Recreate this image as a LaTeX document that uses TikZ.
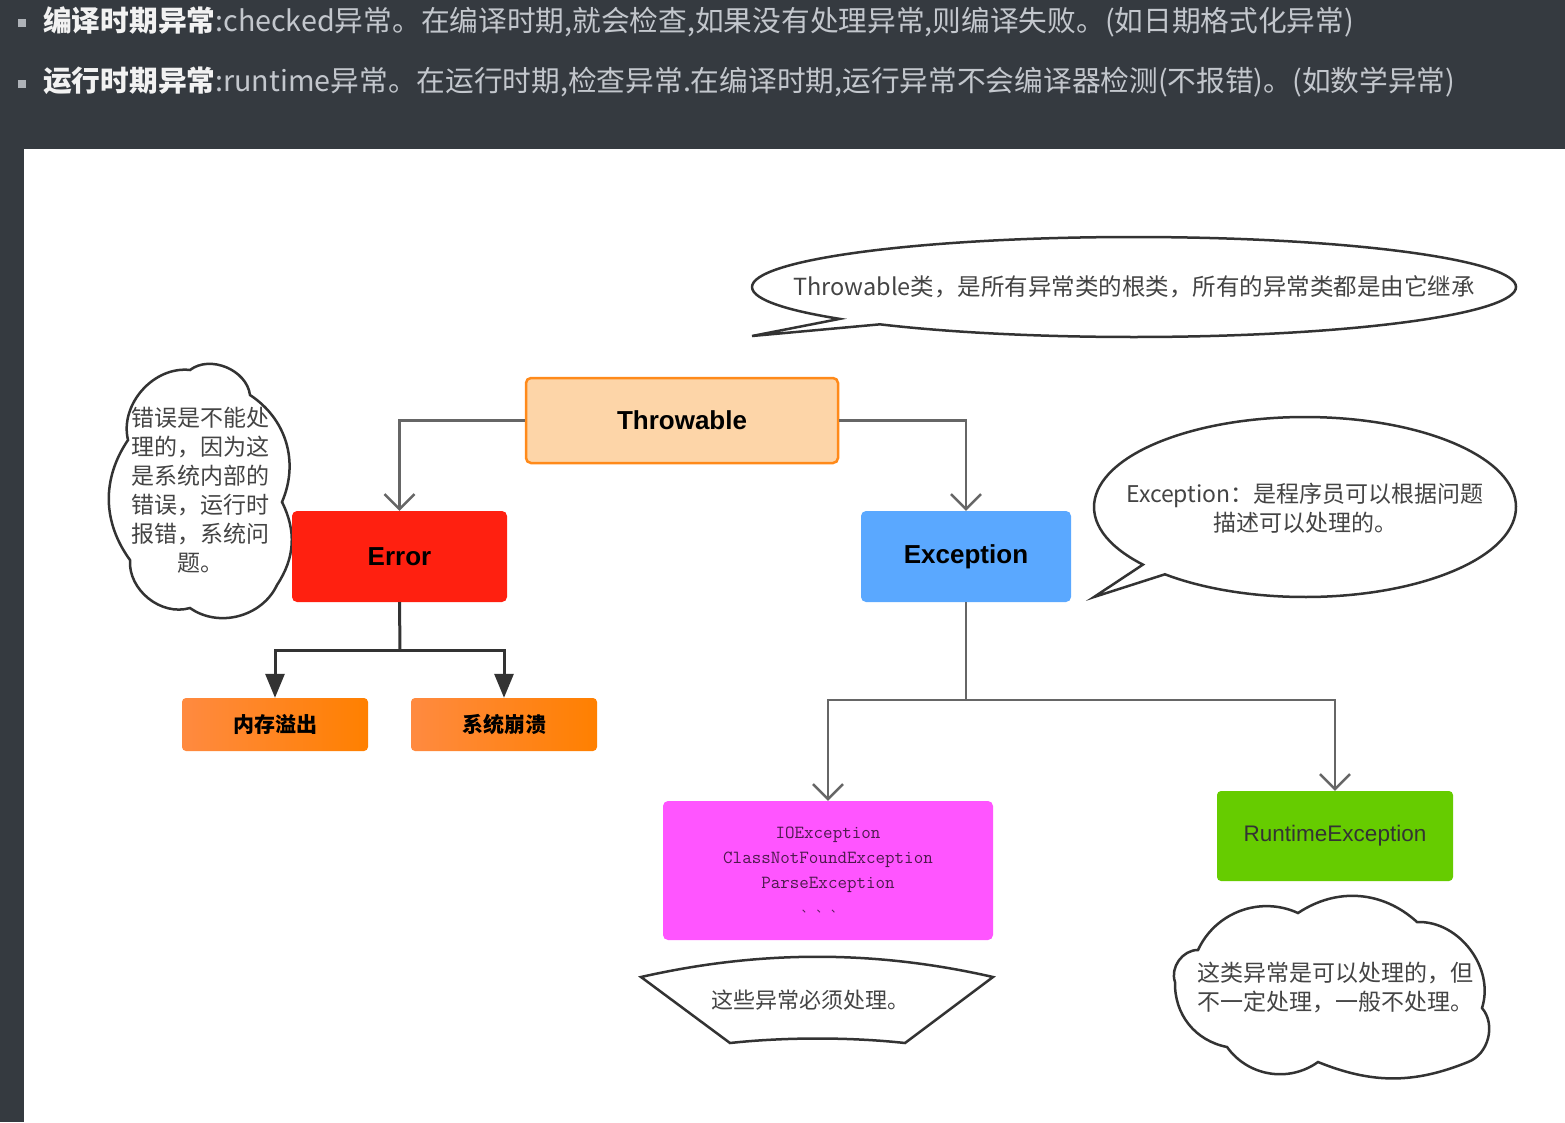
\documentclass[tikz,border=0pt]{standalone}
\usepackage{fontspec}
\setmainfont{Noto Sans CJK SC}
\newfontfamily\lib{Liberation Sans}
\usetikzlibrary{arrows.meta,calc}
\definecolor{bgdark}{HTML}{353A40}
\definecolor{hdrtxt}{HTML}{C3C7CD}
\definecolor{hdrbold}{HTML}{F2F2F2}
\definecolor{linegray}{HTML}{666666}
\definecolor{linedark}{HTML}{333333}
\definecolor{txtgray}{HTML}{444444}
\definecolor{peach}{HTML}{FDD5A8}
\definecolor{orangeline}{HTML}{FF8A1A}
\definecolor{errred}{HTML}{FF2010}
\definecolor{excblue}{HTML}{5AA8FF}
\definecolor{orA}{HTML}{FF8A40}
\definecolor{orB}{HTML}{FF8000}
\definecolor{magent}{HTML}{FF55FF}
\definecolor{iotxt}{HTML}{4D1A4D}
\definecolor{rtgreen}{HTML}{66CC00}
\begin{document}
\begin{tikzpicture}[x=1pt,y=-1pt,
  hdr/.style={anchor=west, inner sep=0pt, text=hdrtxt, font=\fontsize{28.7}{34}\selectfont},
  bulletbox/.style={fill=hdrtxt!85!bgdark, minimum size=8pt, inner sep=0pt},
  classbox/.style={rounded corners=5pt, inner sep=0pt, font=\lib\bfseries\fontsize{26}{30}\selectfont},
  subbox/.style={rounded corners=4pt, inner sep=0pt, left color=orA, right color=orB, minimum width=186pt, minimum height=53pt, font=\bfseries\fontsize{21}{25}\selectfont},
  gline/.style={draw=linegray, line width=2.5pt, -{Straight Barb[length=15pt,width=30pt,line width=2.5pt]}},
  dline/.style={draw=linedark, line width=3pt, -{Triangle[length=24pt,width=19pt]}},
  outline/.style={draw=linedark, line width=2.5pt, fill=white},
  note/.style={text=txtgray, inner sep=0pt, font=\fontsize{23}{29}\selectfont, align=center}
]
\useasboundingbox (0,0) rectangle (1565,1122);
\fill[bgdark] (0,0) rectangle (1565,1122);
\fill[white] (24,149) rectangle (1565,1122);

% header
\node[bulletbox] (b1) at (22,23) {};
\node[hdr] (h1) at (43,22) {{\bfseries\color{hdrbold}编译时期异常}:checked异常。在编译时期,就会检查,如果没有处理异常,则编译失败。(如日期格式化异常)};
\node[bulletbox] (b2) at (22,84) {};
\node[hdr] (h2) at (43,82) {{\bfseries\color{hdrbold}运行时期异常}:runtime异常。在运行时期,检查异常.在编译时期,运行异常不会编译器检测(不报错)。(如数学异常)};

% Throwable callout
\coordinate (tc) at (1134,287);
\draw[outline] (752,336) -- ($(tc)+(219.6:382pt and 50pt)$) coordinate (ta)
  arc[start angle=219.6, end angle=-131.7, x radius=382pt, y radius=50pt] -- cycle;
\node[note, font=\fontsize{23.5}{28}\selectfont] (tnote) at (1134,287) {Throwable类，是所有异常类的根类，所有的异常类都是由它继承};

% Exception callout
\coordinate (ec) at (1305,507);
\draw[outline] (1094,597) -- ($(ec)+(219.8:211pt and 90pt)$)
  arc[start angle=219.8, end angle=-131.6, x radius=211pt, y radius=90pt] -- cycle;
\node[note, font=\fontsize{23}{29}\selectfont] (enote) at (1305,508) {Exception：是程序员可以根据问题\\描述可以处理的。};

% left cloud
\draw[outline] (128,440) to[bend left=55] (190,370) to[bend left=60] (250,395)
  to[bend left=40] (282,502) to[bend left=30] (277,585) to[bend left=50] (190,608)
  to[bend left=55] (130,560) to[bend left=35] cycle;
\node[note] (lnote) at (200,490) {错误是不能处\\理的，因为这\\是系统内部的\\错误，运行时\\报错，系统问\\题。};

% right cloud
\draw[outline] (1198,950) to[bend left=45] (1298,913) to[bend left=38] (1417,922)
  to[bend left=55] (1482,1008) to[bend left=55] (1468,1062) to[bend left=22] (1318,1062)
  to[bend left=45] (1227,1047) to[bend left=40] (1175,982) to[bend left=55] cycle;
\node[note, align=left] (rnote) at (1335,987) {这类异常是可以处理的，但\\不一定处理，一般不处理。};

% bottom-left fan shape
\draw[outline] (641,977) .. controls (760,950) and (875,950) .. (993,977) -- (905,1043)
  .. controls (850,1037) and (785,1037) .. (730,1043) -- cycle;
\node[note, font=\fontsize{22}{28}\selectfont] (bnote) at (810,1000) {这些异常必须处理。};

% class boxes
\node[classbox, fill=peach, draw=orangeline, line width=2.5pt, minimum width=312pt, minimum height=85pt] (thr) at (682,420.5) {Throwable};
\node[classbox, fill=errred, minimum width=215pt, minimum height=91pt] (err) at (399.5,556.5) {Error};
\node[classbox, fill=excblue, minimum width=210pt, minimum height=91pt] (exc) at (966,556.5) {Exception};
\node[subbox] (mem) at (275,724.5) {内存溢出};
\node[subbox] (crash) at (504,724.5) {系统崩溃};
\node[rounded corners=5pt, fill=magent, minimum width=330pt, minimum height=139pt, inner sep=0pt] (io) at (828,870.5) {};
\node[text=iotxt, font=\ttfamily\fontsize{18.5}{25}\selectfont, align=center, inner sep=0pt] (iotext) at (828,860) {IOException\\ClassNotFoundException\\ParseException};
\node[text=iotxt, font=\fontsize{11}{12}\selectfont, inner sep=0pt] (iodots) at (822,912) {、\,\,、\,\,、};
\node[rounded corners=4pt, fill=rtgreen, minimum width=236pt, minimum height=90pt, inner sep=0pt, text=linedark, font=\lib\fontsize{22.5}{26}\selectfont] (rt) at (1335,836) {RuntimeException};

% connectors
\draw[gline] (thr.west) -| (err.north);
\draw[gline] (thr.east) -| (exc.north);
\coordinate (ej) at (400,650);
\draw[draw=linedark, line width=3pt] (err.south) -- (ej);
\draw[dline] (ej) -| (mem.north);
\draw[dline] (ej) -| (crash.north);
\coordinate (xj) at (966,700);
\draw[draw=linegray, line width=2.5pt] (exc.south) -- (xj);
\draw[gline] (xj) -| (io.north);
\draw[gline] (xj) -| (rt.north);
\end{tikzpicture}
\end{document}
